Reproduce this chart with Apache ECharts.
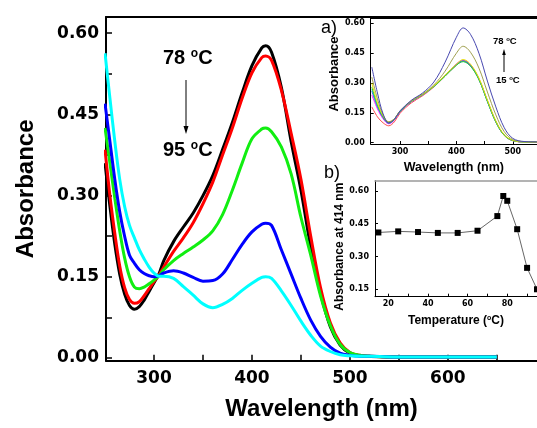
<!DOCTYPE html>
<html><head><meta charset="utf-8">
<script src="https://cdn.jsdelivr.net/npm/echarts@6/dist/echarts.min.js"></script>
<style>html,body{margin:0;padding:0;background:#fff}#c{width:537px;height:428px}</style>
</head><body><div id="c"></div>
<script>
// ---------- Main chart data (78 -> 95 °C) ----------
const wavelengthMain = [250,255,260,265,270,275,280,285,290,295,300,305,310,320,330,340,350,360,370,380,390,400,410,414,420,430,440,450,460,470,480,490,500,510,520,550,600,650];
const abs78C = [0.36,0.28,0.21,0.155,0.118,0.097,0.09,0.095,0.107,0.123,0.139,0.155,0.18,0.215,0.242,0.268,0.30,0.337,0.385,0.435,0.49,0.54,0.573,0.577,0.565,0.50,0.40,0.31,0.205,0.12,0.058,0.024,0.009,0.004,0.003,0.002,0.002,0.002];
const abs80C = [0.385,0.30,0.23,0.17,0.13,0.108,0.101,0.104,0.115,0.128,0.141,0.153,0.168,0.197,0.222,0.25,0.285,0.325,0.375,0.425,0.48,0.527,0.555,0.558,0.55,0.495,0.415,0.33,0.225,0.13,0.065,0.028,0.01,0.005,0.003,0.002,0.002,0.002];
const abs85C = [0.425,0.36,0.295,0.235,0.185,0.15,0.131,0.128,0.131,0.137,0.144,0.152,0.163,0.18,0.193,0.205,0.218,0.235,0.265,0.31,0.36,0.405,0.423,0.425,0.418,0.39,0.34,0.26,0.19,0.115,0.06,0.025,0.01,0.005,0.003,0.002,0.002,0.002];
const abs90C = [0.47,0.40,0.33,0.27,0.225,0.19,0.175,0.163,0.156,0.152,0.150,0.152,0.157,0.161,0.157,0.149,0.142,0.143,0.155,0.182,0.21,0.233,0.247,0.249,0.245,0.20,0.155,0.11,0.07,0.04,0.02,0.009,0.005,0.003,0.003,0.002,0.002,0.002];
const abs95C = [0.563,0.48,0.40,0.33,0.28,0.245,0.222,0.20,0.183,0.168,0.157,0.151,0.151,0.147,0.132,0.116,0.100,0.093,0.099,0.11,0.125,0.138,0.149,0.15,0.147,0.124,0.097,0.068,0.042,0.022,0.012,0.006,0.004,0.003,0.003,0.002,0.002,0.002];
const mainYLabels = [0, 0.15, 0.30, 0.45, 0.60];
const mainYTicks = [0, 0.075, 0.15, 0.225, 0.30, 0.375, 0.45, 0.525, 0.60];
const mainXLabels = [300, 400, 500, 600];
const mainXTicks = [300, 350, 400, 450, 500, 550, 600, 650];

// ---------- Inset a data (15 -> 78 °C) ----------
const wavelengthInset = [250,260,270,280,290,300,320,340,360,380,400,412,425,440,455,470,485,500,520,545];
const insetA78 = [0.38,0.25,0.145,0.10,0.118,0.16,0.213,0.25,0.305,0.405,0.53,0.577,0.545,0.45,0.31,0.18,0.075,0.022,0.006,0.004];
const insetA75 = [0.33,0.22,0.14,0.105,0.12,0.16,0.21,0.245,0.29,0.36,0.45,0.485,0.455,0.375,0.255,0.14,0.055,0.016,0.005,0.003];
const insetA65 = [0.30,0.20,0.135,0.105,0.12,0.16,0.21,0.243,0.285,0.34,0.395,0.418,0.395,0.325,0.215,0.11,0.04,0.012,0.004,0.003];
const insetA55 = [0.28,0.19,0.13,0.10,0.118,0.158,0.208,0.242,0.283,0.335,0.39,0.408,0.385,0.318,0.208,0.105,0.037,0.011,0.004,0.003];
const insetA45 = [0.27,0.185,0.13,0.10,0.117,0.157,0.207,0.241,0.282,0.335,0.39,0.408,0.385,0.317,0.207,0.104,0.037,0.011,0.004,0.003];
const insetA35 = [0.26,0.18,0.125,0.098,0.116,0.156,0.207,0.241,0.283,0.337,0.393,0.412,0.39,0.32,0.21,0.106,0.038,0.011,0.004,0.003];
const insetA25 = [0.24,0.17,0.12,0.095,0.113,0.154,0.205,0.24,0.283,0.338,0.396,0.415,0.392,0.322,0.212,0.107,0.038,0.011,0.004,0.003];
const insetA15 = [0.18,0.13,0.10,0.085,0.105,0.148,0.20,0.236,0.28,0.335,0.39,0.41,0.388,0.318,0.208,0.104,0.036,0.01,0.004,0.003];
const insetAYLabels = [0, 0.15, 0.30, 0.45, 0.60];
const insetAXLabels = [300, 400, 500];
const insetAXTicks = [300, 350, 400, 450, 500];

// ---------- Inset b data ----------
const temperatures = [15,25,35,45,55,65,75,78,80,85,90,95];
const abs414 = [0.41,0.415,0.412,0.408,0.408,0.418,0.485,0.577,0.555,0.425,0.248,0.15];
const insetBYLabels = [0.15, 0.30, 0.45, 0.60];
const insetBXLabels = [20, 40, 60, 80];
const insetBXTicks = [20, 30, 40, 50, 60, 70, 80, 90];

const pair = (xs, ys) => xs.map((x, i) => [x, ys[i]]);
const BLACK = '#000';
const tickFont = (size) => ({fontFamily: 'DejaVu Sans', fontWeight: 'bold', fontSize: size, color: BLACK});

const chart = echarts.init(document.getElementById('c'), null, {renderer: 'canvas'});

function border(gridIndex, min, max, color, w) {
  return {type: 'value', gridIndex, position: 'top', min, max,
    axisLine: {show: true, onZero: false, lineStyle: {color, width: w}},
    axisTick: {show: false}, axisLabel: {show: false}, splitLine: {show: false}};
}

const mainSeries = [
  ['78', abs78C, '#000000'],
  ['80', abs80C, '#ff0000'],
  ['85', abs85C, '#11ee11'],
  ['90', abs90C, '#0000ff'],
  ['95', abs95C, '#00ffff']
].map(([n, ys, c]) => ({
  type: 'line', name: n + ' °C', xAxisIndex: 0, yAxisIndex: 0,
  data: pair(wavelengthMain, ys), showSymbol: false, smooth: 0.35,
  lineStyle: {color: c, width: 3}, itemStyle: {color: c}, z: 3
}));

const insetASeries = [
  ['15', insetA15, '#ff4a4a'],
  ['25', insetA25, '#ff22ff'],
  ['35', insetA35, '#3a3aff'],
  ['45', insetA45, '#20c0c0'],
  ['55', insetA55, '#33cc33'],
  ['65', insetA65, '#e6e600'],
  ['75', insetA75, '#a0a050'],
  ['78', insetA78, '#4848b0']
].map(([n, ys, c]) => ({
  type: 'line', name: 'a ' + n + ' °C', xAxisIndex: 2, yAxisIndex: 1,
  data: pair(wavelengthInset, ys), showSymbol: false, smooth: 0.35,
  lineStyle: {color: c, width: 1}, itemStyle: {color: c}, z: 3
}));

const option = {
  backgroundColor: '#fff',
  animation: false,
  grid: [
    {left: 106, top: 17, right: 0, bottom: 67.3, containLabel: false},
    {left: 370.7, top: 18, right: 0, height: 126, containLabel: false},
    {left: 375, top: 180.7, right: 0, height: 116, containLabel: false}
  ],
  xAxis: [
    {type: 'value', gridIndex: 0, min: 251, max: 691,
      name: 'Wavelength (nm)', nameLocation: 'middle', nameGap: 37,
      nameTextStyle: {fontFamily: 'Liberation Sans', fontWeight: 'bold', fontSize: 24, color: BLACK},
      axisLine: {show: true, onZero: false, lineStyle: {color: BLACK, width: 2}},
      axisTick: {show: true, inside: true, length: 6, customValues: mainXTicks, lineStyle: {color: BLACK, width: 1.5}},
      axisLabel: {customValues: mainXLabels, margin: 9, ...tickFont(17)},
      splitLine: {show: false}},
    border(0, 251, 691, BLACK, 2),
    {type: 'value', gridIndex: 1, min: 248, max: 543,
      name: 'Wavelength (nm)', nameLocation: 'middle', nameGap: 17,
      nameTextStyle: {fontFamily: 'Liberation Sans', fontWeight: 'bold', fontSize: 12.5, color: BLACK},
      axisLine: {show: true, onZero: false, lineStyle: {color: BLACK, width: 1}},
      axisTick: {show: true, inside: true, length: 3, customValues: insetAXTicks, lineStyle: {color: BLACK}},
      axisLabel: {customValues: insetAXLabels, margin: 4, ...tickFont(8)},
      splitLine: {show: false}},
    border(1, 248, 543, BLACK, 1),
    {type: 'value', gridIndex: 2, min: 13.3, max: 95,
      name: 'Temperature ({s|o}C)', nameLocation: 'middle', nameGap: 18,
      nameTextStyle: {fontFamily: 'Liberation Sans', fontWeight: 'bold', fontSize: 12, color: BLACK,
        rich: {s: {fontFamily: 'Liberation Sans', fontWeight: 'bold', fontSize: 7, verticalAlign: 'top', color: BLACK}}},
      axisLine: {show: true, onZero: false, lineStyle: {color: BLACK, width: 1}},
      axisTick: {show: true, inside: true, length: 3, customValues: insetBXTicks, lineStyle: {color: BLACK}},
      axisLabel: {customValues: insetBXLabels, margin: 3, ...tickFont(8)},
      splitLine: {show: false}},
    border(2, 13.3, 95, '#9a9a9a', 1.5)
  ],
  yAxis: [
    {type: 'value', gridIndex: 0, min: -0.005, max: 0.63,
      name: 'Absorbance', nameLocation: 'middle', nameGap: 68,
      nameTextStyle: {fontFamily: 'Liberation Sans', fontWeight: 'bold', fontSize: 24, color: BLACK},
      axisLine: {show: true, onZero: false, lineStyle: {color: BLACK, width: 2}},
      axisTick: {show: true, inside: true, length: 6, customValues: mainYTicks, lineStyle: {color: BLACK, width: 1.5}},
      axisLabel: {customValues: mainYLabels, formatter: v => v.toFixed(2), margin: 7, ...tickFont(17)},
      splitLine: {show: false}},
    {type: 'value', gridIndex: 1, min: -0.0065, max: 0.627,
      name: 'Absorbance', nameLocation: 'middle', nameGap: 29,
      nameTextStyle: {fontFamily: 'Liberation Sans', fontWeight: 'bold', fontSize: 13, color: BLACK, padding: [0, 0, 0, 14]},
      axisLine: {show: true, onZero: false, lineStyle: {color: BLACK, width: 1}},
      axisTick: {show: true, inside: true, length: 3, customValues: insetAYLabels, lineStyle: {color: BLACK}},
      axisLabel: {customValues: insetAYLabels, formatter: v => v.toFixed(2), margin: 6, ...tickFont(8)},
      splitLine: {show: false}},
    {type: 'value', gridIndex: 2, min: 0.116, max: 0.647,
      name: 'Absorbance at 414 nm', nameLocation: 'middle', nameGap: 28,
      nameTextStyle: {fontFamily: 'Liberation Sans', fontWeight: 'bold', fontSize: 12, color: BLACK, padding: [0, 16, 0, 0]},
      axisLine: {show: true, onZero: false, lineStyle: {color: BLACK, width: 1}},
      axisTick: {show: true, inside: true, length: 3, customValues: insetBYLabels, lineStyle: {color: BLACK}},
      axisLabel: {customValues: insetBYLabels, formatter: v => v.toFixed(2), margin: 6, ...tickFont(8)},
      splitLine: {show: false}}
  ],
  series: [
    ...mainSeries,
    ...insetASeries,
    {type: 'line', name: 'Absorbance at 414 nm', xAxisIndex: 4, yAxisIndex: 2,
      data: pair(temperatures, abs414), symbol: 'rect', symbolSize: 6, showSymbol: true,
      lineStyle: {color: '#666', width: 1}, itemStyle: {color: '#000'}, z: 3}
  ],
  graphic: [
    {type: 'text', x: 163, y: 48, z: 10, style: {text: '{n|78 }{s|o}{n|C}',
      rich: {n: {fontFamily: 'Liberation Sans', fontWeight: 'bold', fontSize: 20, fill: BLACK},
             s: {fontFamily: 'Liberation Sans', fontWeight: 'bold', fontSize: 12, verticalAlign: 'top', fill: BLACK}}}},
    {type: 'text', x: 163, y: 140, z: 10, style: {text: '{n|95 }{s|o}{n|C}',
      rich: {n: {fontFamily: 'Liberation Sans', fontWeight: 'bold', fontSize: 20, fill: BLACK},
             s: {fontFamily: 'Liberation Sans', fontWeight: 'bold', fontSize: 12, verticalAlign: 'top', fill: BLACK}}}},
    {type: 'line', z: 10, shape: {x1: 186, y1: 80, x2: 186, y2: 128}, style: {stroke: BLACK, lineWidth: 1}},
    {type: 'polygon', z: 10, shape: {points: [[183.5, 126], [188.5, 126], [186, 134]]}, style: {fill: BLACK}},
    {type: 'text', x: 321, y: 19, z: 10, style: {text: 'a)', fontFamily: 'Liberation Sans', fontSize: 18, fill: BLACK}},
    {type: 'text', x: 324, y: 164, z: 10, style: {text: 'b)', fontFamily: 'Liberation Sans', fontSize: 18, fill: BLACK}},
    {type: 'text', x: 493, y: 36, z: 10, style: {text: '{n|78 }{s|o}{n|C}',
      rich: {n: {fontFamily: 'Liberation Sans', fontWeight: 'bold', fontSize: 9.5, fill: BLACK},
             s: {fontFamily: 'Liberation Sans', fontWeight: 'bold', fontSize: 6, verticalAlign: 'top', fill: BLACK}}}},
    {type: 'text', x: 496, y: 75, z: 10, style: {text: '{n|15 }{s|o}{n|C}',
      rich: {n: {fontFamily: 'Liberation Sans', fontWeight: 'bold', fontSize: 9.5, fill: BLACK},
             s: {fontFamily: 'Liberation Sans', fontWeight: 'bold', fontSize: 6, verticalAlign: 'top', fill: BLACK}}}},
    {type: 'line', z: 10, shape: {x1: 504, y1: 72, x2: 504, y2: 54}, style: {stroke: BLACK, lineWidth: 1}},
    {type: 'polygon', z: 10, shape: {points: [[502.2, 55], [505.8, 55], [504, 49]]}, style: {fill: BLACK}}
  ]
};
chart.setOption(option);
</script>
</body></html>
